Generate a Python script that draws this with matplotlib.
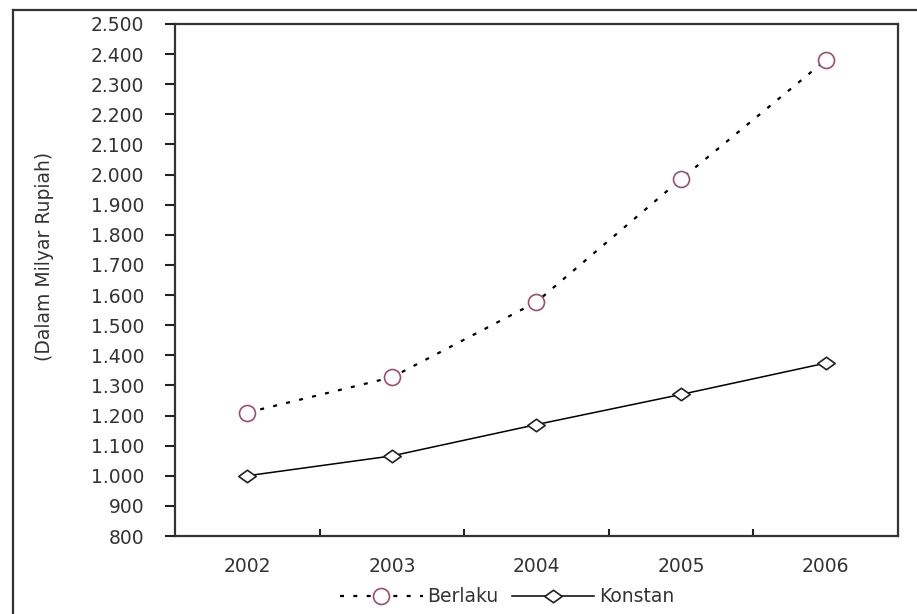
import matplotlib.pyplot as plt
from matplotlib.lines import Line2D
from matplotlib.path import Path
from matplotlib.ticker import FuncFormatter, MultipleLocator, FixedLocator

# Nilai PDRB (dalam milyar rupiah)
tahun = ["2002", "2003", "2004", "2005", "2006"]
berlaku = [1210, 1327, 1577, 1985, 2380]
konstan = [1000, 1066, 1170, 1270, 1374]

plt.rcParams['font.family'] = ['DejaVu Sans']

fig = plt.figure(figsize=(9.17, 6.14), dpi=100)
ax = fig.add_axes([0.1908, 0.127, 0.7885, 0.834])

# wide, flat diamond marker
diamond = Path([(-1, 0), (0, 0.72), (1, 0), (0, -0.72), (-1, 0)],
               [Path.MOVETO, Path.LINETO, Path.LINETO, Path.LINETO, Path.CLOSEPOLY])

x = range(len(tahun))
ax.plot(x, berlaku, color='black', lw=1.6, linestyle=(0, (1.8, 4.2)),
        marker='o', markersize=11.5, markerfacecolor='white',
        markeredgecolor='#9B4F6E', markeredgewidth=1.2, label='Berlaku')
ax.plot(x, konstan, color='black', lw=1.1,
        marker=diamond, markersize=12.5, markerfacecolor='white',
        markeredgecolor='#222222', markeredgewidth=1.2, label='Konstan')

ax.set_xlim(-0.5, len(tahun) - 0.5)
ax.set_ylim(800, 2500)
ax.yaxis.set_major_locator(MultipleLocator(100))
ax.yaxis.set_major_formatter(FuncFormatter(lambda v, p: f"{int(v):,}".replace(',', '.')))

ax.set_xticks(list(x))
ax.set_xticklabels(tahun)
ax.xaxis.set_minor_locator(FixedLocator([i + 0.5 for i in range(len(tahun) - 1)]))
ax.tick_params(axis='x', which='major', length=0, pad=15, labelsize=13.5, colors='#333333')
ax.tick_params(axis='x', which='minor', direction='in', length=5, width=1.5, color='#222222')
ax.tick_params(axis='y', direction='out', length=7, width=1.5, pad=15,
               labelsize=13.5, colors='#333333')
ax.tick_params(axis='y', color='#222222')

for s in ax.spines.values():
    s.set_linewidth(1.6)
    s.set_color('#333333')

fig.text(45 / 917, 1 - 256 / 614, '(Dalam Milyar Rupiah)', rotation=90,
         ha='center', va='center', fontsize=13.5, color='#333333')

fig.legend(loc='center', bbox_to_anchor=(507 / 917, 1 - 597 / 614), ncol=2,
           frameon=False, fontsize=13.5, handlelength=4.4, handletextpad=0.25,
           columnspacing=0.7, labelcolor='#333333')

# outer frame (left and top edges)
fig.add_artist(Line2D([13 / 917, 13 / 917], [0, 1 - 10 / 614], color='#333333', lw=1.6))
fig.add_artist(Line2D([13 / 917, 1], [1 - 10 / 614, 1 - 10 / 614], color='#333333', lw=1.6))

fig.savefig("out.png", dpi=100)
